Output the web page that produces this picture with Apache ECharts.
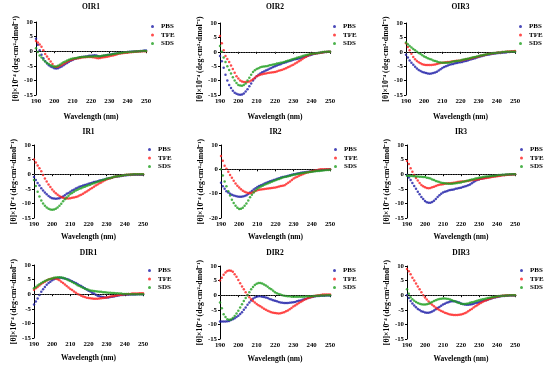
<!DOCTYPE html>
<html><head><meta charset="utf-8">
<script src="https://cdn.jsdelivr.net/npm/echarts@6/dist/echarts.min.js"></script>
<style>html,body{margin:0;padding:0;background:#fff}#c{width:550px;height:366px}</style>
</head><body><div id="c"></div>
<script>
const wavelengths = [190,191,192,193,194,195,196,197,198,199,200,201,202,203,204,205,206,207,208,209,210,211,212,213,214,215,216,217,218,219,220,221,222,223,224,225,226,227,228,229,230,231,232,233,234,235,236,237,238,239,240,241,242,243,244,245,246,247,248,249,250];
const seriesNames = ['PBS','TFE','SDS'];
const xTicks = [190,200,210,220,230,240,250];

const OIR1_PBS=[4.3,2.2,0.3,-1.2,-2.4,-3.4,-4.2,-4.8,-5.2,-5.5,-5.8,-5.9,-5.8,-5.5,-5.2,-4.8,-4.4,-4.0,-3.6,-3.3,-3.0,-2.7,-2.5,-2.3,-2.1,-2.0,-1.9,-1.8,-1.7,-1.6,-1.6,-1.5,-1.4,-1.5,-1.7,-1.8,-1.7,-1.6,-1.5,-1.3,-1.2,-1.1,-1.0,-0.9,-0.8,-0.7,-0.6,-0.5,-0.4,-0.4,-0.3,-0.2,-0.2,-0.1,-0.1,0.0,0.0,0.1,0.1,0.2,0.2];
const OIR1_TFE=[3.5,3.0,2.3,1.5,0.3,-1.0,-1.8,-2.7,-3.5,-4.4,-5.2,-5.4,-5.3,-5.0,-4.7,-4.3,-4.0,-3.6,-3.3,-3.0,-2.8,-2.6,-2.5,-2.4,-2.3,-2.2,-2.1,-2.1,-2.0,-2.0,-2.0,-2.1,-2.2,-2.3,-2.4,-2.3,-2.2,-2.1,-2.0,-1.9,-1.7,-1.6,-1.5,-1.3,-1.1,-0.9,-0.8,-0.7,-0.6,-0.5,-0.5,-0.4,-0.4,-0.3,-0.2,-0.2,-0.1,-0.1,0.0,0.0,0.0];
const OIR1_SDS=[1.0,-0.3,-1.5,-2.2,-2.9,-3.5,-4.0,-4.4,-4.8,-5.1,-5.3,-5.2,-5.0,-4.6,-4.2,-3.8,-3.5,-3.2,-2.9,-2.7,-2.5,-2.4,-2.3,-2.2,-2.1,-2.0,-2.0,-1.9,-1.9,-1.8,-1.8,-1.8,-1.7,-1.7,-1.7,-1.7,-1.6,-1.5,-1.4,-1.3,-1.2,-1.1,-1.0,-0.9,-0.8,-0.7,-0.6,-0.5,-0.4,-0.4,-0.3,-0.3,-0.2,-0.2,-0.1,-0.1,0.0,0.0,0.1,0.1,0.1];

const OIR2_PBS=[-1.5,-3.3,-5.5,-8.0,-10.0,-11.5,-12.6,-13.5,-14.2,-14.6,-14.8,-14.9,-14.8,-14.5,-13.8,-13.0,-12.0,-11.0,-10.0,-9.2,-8.5,-8.0,-7.5,-7.1,-6.8,-6.5,-6.2,-5.9,-5.6,-5.3,-5.0,-4.8,-4.5,-4.3,-4.0,-3.8,-3.6,-3.4,-3.2,-3.0,-2.8,-2.6,-2.5,-2.3,-2.2,-2.0,-1.8,-1.6,-1.4,-1.2,-1.0,-0.8,-0.7,-0.5,-0.4,-0.3,-0.2,-0.1,-0.1,0.0,0.0];
const OIR2_TFE=[5.5,3.0,0.5,-1.5,-2.5,-3.5,-4.8,-6.0,-7.3,-8.5,-9.3,-10.0,-10.3,-10.5,-10.5,-10.5,-10.3,-10.0,-9.5,-9.0,-8.5,-8.2,-8.0,-7.8,-7.6,-7.5,-7.4,-7.3,-7.2,-7.1,-7.0,-6.8,-6.6,-6.4,-6.2,-6.0,-5.7,-5.4,-5.1,-4.8,-4.5,-4.1,-3.7,-3.3,-2.9,-2.5,-2.1,-1.7,-1.3,-1.0,-0.8,-0.7,-0.6,-0.5,-0.4,-0.3,-0.2,-0.1,-0.1,0.0,0.0];
const OIR2_SDS=[2.0,0.0,-2.0,-3.5,-5.0,-6.3,-7.5,-8.8,-10.0,-10.8,-11.5,-11.7,-11.8,-11.5,-11.0,-10.0,-9.0,-8.0,-7.0,-6.4,-6.0,-5.7,-5.4,-5.2,-5.1,-5.0,-4.9,-4.7,-4.6,-4.4,-4.3,-4.1,-4.0,-3.8,-3.7,-3.5,-3.3,-3.1,-2.9,-2.7,-2.5,-2.3,-2.1,-1.9,-1.7,-1.5,-1.3,-1.1,-1.0,-0.8,-0.7,-0.6,-0.5,-0.4,-0.3,-0.2,-0.1,-0.1,0.0,0.0,0.0];

const OIR3_PBS=[-1.0,-2.0,-3.0,-3.8,-4.5,-5.2,-5.8,-6.3,-6.7,-7.0,-7.2,-7.4,-7.5,-7.6,-7.5,-7.4,-7.2,-6.9,-6.5,-6.1,-5.6,-5.3,-5.0,-4.8,-4.5,-4.3,-4.2,-4.0,-3.9,-3.7,-3.6,-3.5,-3.3,-3.2,-3.0,-2.8,-2.6,-2.4,-2.2,-2.0,-1.8,-1.6,-1.5,-1.3,-1.1,-1.0,-0.9,-0.8,-0.7,-0.6,-0.5,-0.4,-0.4,-0.3,-0.2,-0.2,-0.1,-0.1,0.0,0.0,0.0];
const OIR3_TFE=[3.0,1.7,0.5,-0.7,-1.8,-2.6,-3.2,-3.6,-4.0,-4.3,-4.5,-4.6,-4.6,-4.6,-4.6,-4.5,-4.4,-4.2,-4.1,-3.9,-3.8,-3.7,-3.6,-3.5,-3.5,-3.4,-3.3,-3.2,-3.1,-3.1,-3.0,-2.9,-2.8,-2.6,-2.5,-2.4,-2.2,-2.1,-1.9,-1.8,-1.6,-1.4,-1.3,-1.1,-1.0,-0.8,-0.7,-0.6,-0.5,-0.4,-0.3,-0.2,-0.2,-0.1,-0.1,0.0,0.1,0.1,0.2,0.2,0.3];
const OIR3_SDS=[3.2,2.6,2.0,1.5,1.0,0.5,0.0,-0.4,-0.8,-1.2,-1.6,-1.9,-2.2,-2.5,-2.7,-3.0,-3.2,-3.4,-3.6,-3.7,-3.8,-3.8,-3.8,-3.8,-3.7,-3.5,-3.4,-3.3,-3.2,-3.1,-3.0,-2.8,-2.7,-2.5,-2.4,-2.2,-2.1,-1.9,-1.8,-1.6,-1.5,-1.3,-1.2,-1.0,-0.9,-0.8,-0.7,-0.5,-0.4,-0.4,-0.3,-0.2,-0.2,-0.1,-0.1,0.0,0.0,0.0,0.0,0.0,0.0];

const IR1_PBS=[-1.0,-2.0,-3.0,-3.9,-4.8,-5.6,-6.3,-6.9,-7.5,-7.9,-8.2,-8.3,-8.4,-8.3,-8.2,-7.9,-7.6,-7.2,-6.7,-6.4,-6.0,-5.6,-5.3,-4.9,-4.6,-4.3,-4.1,-3.9,-3.7,-3.5,-3.3,-3.1,-2.9,-2.7,-2.6,-2.4,-2.2,-2.1,-1.9,-1.8,-1.6,-1.5,-1.3,-1.2,-1.0,-0.9,-0.8,-0.7,-0.6,-0.5,-0.4,-0.4,-0.3,-0.3,-0.2,-0.2,-0.2,-0.2,-0.2,-0.2,-0.2];
const IR1_TFE=[5.0,4.0,3.0,2.0,1.0,-0.3,-1.5,-2.5,-3.5,-4.4,-5.2,-5.9,-6.5,-7.0,-7.5,-7.8,-8.1,-8.2,-8.3,-8.3,-8.2,-8.1,-8.0,-7.8,-7.6,-7.3,-7.0,-6.7,-6.3,-5.9,-5.5,-5.1,-4.7,-4.3,-3.9,-3.5,-3.1,-2.8,-2.4,-2.1,-1.8,-1.6,-1.4,-1.2,-1.0,-0.8,-0.7,-0.6,-0.5,-0.4,-0.3,-0.2,-0.2,-0.1,-0.1,0.0,0.0,0.0,0.0,0.0,0.0];
const IR1_SDS=[-2.0,-4.0,-6.0,-7.6,-9.0,-10.0,-10.8,-11.4,-11.8,-12.1,-12.2,-12.1,-11.8,-11.4,-10.8,-10.1,-9.3,-8.6,-8.0,-7.4,-6.8,-6.4,-6.0,-5.6,-5.3,-5.0,-4.8,-4.5,-4.3,-4.0,-3.8,-3.6,-3.3,-3.1,-2.8,-2.6,-2.4,-2.2,-2.0,-1.8,-1.6,-1.4,-1.3,-1.1,-0.9,-0.8,-0.7,-0.6,-0.5,-0.4,-0.3,-0.2,-0.2,-0.1,-0.1,0.0,0.0,0.0,0.0,0.0,0.0];

const IR2_PBS=[-5.5,-7.0,-8.0,-9.0,-9.5,-10.0,-10.4,-10.8,-11.0,-11.2,-11.3,-11.3,-11.2,-11.0,-10.6,-10.1,-9.5,-8.9,-8.3,-7.8,-7.3,-6.9,-6.5,-6.2,-5.8,-5.5,-5.2,-4.9,-4.7,-4.4,-4.2,-3.9,-3.7,-3.4,-3.2,-3.0,-2.8,-2.6,-2.4,-2.2,-2.0,-1.9,-1.7,-1.6,-1.4,-1.3,-1.2,-1.1,-1.0,-0.9,-0.8,-0.7,-0.6,-0.5,-0.4,-0.3,-0.3,-0.2,-0.1,-0.1,0.0];
const IR2_TFE=[5.5,3.5,1.5,0.2,-1.0,-2.3,-3.5,-4.7,-5.8,-6.7,-7.5,-8.2,-8.8,-9.2,-9.5,-9.7,-9.8,-9.6,-9.3,-8.9,-8.6,-8.4,-8.3,-8.2,-8.1,-8.0,-7.9,-7.8,-7.7,-7.6,-7.5,-7.3,-7.1,-6.9,-6.7,-6.5,-6.0,-5.5,-5.0,-4.4,-3.8,-3.4,-3.0,-2.6,-2.3,-2.0,-1.7,-1.4,-1.2,-1.0,-0.8,-0.6,-0.4,-0.3,-0.1,0.0,0.0,0.0,0.0,0.0,0.0];
const IR2_SDS=[0.0,-2.5,-5.0,-7.0,-9.0,-10.8,-12.5,-13.8,-15.0,-15.8,-16.3,-16.2,-15.8,-15.0,-14.0,-12.8,-11.5,-10.4,-9.5,-8.7,-8.0,-7.5,-7.1,-6.7,-6.3,-6.0,-5.7,-5.4,-5.1,-4.8,-4.5,-4.2,-4.0,-3.7,-3.4,-3.2,-3.0,-2.8,-2.6,-2.4,-2.2,-2.1,-1.9,-1.8,-1.6,-1.5,-1.4,-1.3,-1.2,-1.1,-1.0,-0.9,-0.8,-0.7,-0.7,-0.6,-0.5,-0.4,-0.3,-0.3,-0.2];

const IR3_PBS=[-0.3,-1.1,-2.0,-3.0,-4.0,-5.0,-6.0,-6.9,-7.8,-8.5,-9.2,-9.6,-9.8,-9.8,-9.5,-9.1,-8.5,-7.8,-7.2,-6.7,-6.3,-6.0,-5.8,-5.6,-5.4,-5.3,-5.2,-5.0,-4.9,-4.7,-4.6,-4.4,-4.2,-4.0,-3.8,-3.5,-3.1,-2.7,-2.3,-2.0,-1.8,-1.6,-1.5,-1.3,-1.1,-1.0,-0.9,-0.8,-0.7,-0.6,-0.5,-0.4,-0.4,-0.3,-0.3,-0.2,-0.2,-0.1,-0.1,0.0,0.0];
const IR3_TFE=[4.5,3.5,2.0,0.8,-0.3,-1.3,-2.2,-3.0,-3.7,-4.1,-4.5,-4.7,-4.8,-4.7,-4.5,-4.3,-4.0,-3.8,-3.6,-3.5,-3.4,-3.3,-3.2,-3.1,-3.1,-3.0,-2.9,-2.8,-2.7,-2.6,-2.5,-2.5,-2.4,-2.3,-2.3,-2.2,-2.1,-2.0,-1.9,-1.8,-1.7,-1.6,-1.5,-1.4,-1.3,-1.2,-1.1,-1.0,-0.9,-0.8,-0.7,-0.6,-0.5,-0.4,-0.4,-0.3,-0.2,-0.2,-0.1,-0.1,0.0];
const IR3_SDS=[-0.5,-0.5,-0.6,-0.6,-0.7,-0.8,-0.8,-0.9,-0.9,-1.0,-1.0,-1.2,-1.3,-1.5,-1.8,-2.0,-2.3,-2.5,-2.7,-2.9,-3.0,-3.1,-3.2,-3.3,-3.3,-3.3,-3.2,-3.1,-3.0,-2.9,-2.8,-2.6,-2.5,-2.3,-2.2,-2.0,-1.8,-1.7,-1.5,-1.4,-1.2,-1.1,-1.0,-0.9,-0.8,-0.8,-0.7,-0.6,-0.5,-0.5,-0.4,-0.3,-0.3,-0.2,-0.2,-0.1,-0.1,0.0,0.0,0.0,0.0];

const DIR1_PBS=[-3.5,-2.5,-1.5,-0.3,0.8,1.7,2.5,3.2,3.8,4.3,4.8,5.1,5.4,5.5,5.6,5.6,5.5,5.4,5.2,5.0,4.7,4.4,4.1,3.8,3.5,3.1,2.8,2.4,2.0,1.6,1.2,0.9,0.5,0.2,-0.2,-0.5,-0.7,-0.9,-1.0,-1.1,-1.1,-1.1,-1.0,-0.9,-0.8,-0.6,-0.5,-0.4,-0.3,-0.3,-0.2,-0.2,-0.2,-0.1,-0.1,-0.1,-0.1,0.0,0.0,0.0,0.0];
const DIR1_TFE=[1.5,2.0,2.5,3.0,3.5,3.9,4.3,4.7,5.0,5.2,5.4,5.5,5.4,5.1,4.8,4.3,3.8,3.3,2.8,2.3,1.8,1.4,0.9,0.5,0.1,-0.2,-0.5,-0.8,-1.0,-1.2,-1.3,-1.4,-1.5,-1.6,-1.6,-1.6,-1.5,-1.4,-1.3,-1.2,-1.1,-1.0,-0.8,-0.7,-0.6,-0.5,-0.4,-0.3,-0.2,-0.1,0.0,0.0,0.1,0.1,0.2,0.2,0.2,0.2,0.3,0.3,0.3];
const DIR1_SDS=[2.0,2.5,3.0,3.4,3.8,4.2,4.5,4.8,5.0,5.2,5.4,5.6,5.7,5.8,5.8,5.7,5.6,5.4,5.1,4.8,4.5,4.2,3.8,3.5,3.1,2.8,2.5,2.2,1.9,1.7,1.5,1.3,1.2,1.1,1.0,0.9,0.8,0.8,0.7,0.7,0.6,0.5,0.5,0.4,0.4,0.3,0.3,0.2,0.2,0.1,0.1,0.1,0.1,0.0,0.0,0.0,0.0,0.0,0.0,0.0,0.0];

const DIR2_PBS=[-9.0,-9.0,-9.0,-9.0,-8.9,-8.8,-8.5,-8.2,-7.9,-7.5,-7.0,-6.4,-5.8,-5.0,-4.2,-3.3,-2.5,-1.8,-1.2,-0.8,-0.5,-0.4,-0.4,-0.5,-0.6,-0.8,-1.0,-1.3,-1.5,-1.7,-1.9,-2.1,-2.3,-2.5,-2.6,-2.7,-2.7,-2.7,-2.6,-2.5,-2.4,-2.3,-2.1,-1.9,-1.8,-1.6,-1.4,-1.2,-1.0,-0.8,-0.6,-0.5,-0.4,-0.3,-0.3,-0.2,-0.2,-0.2,-0.1,-0.1,-0.1];
const DIR2_TFE=[5.0,6.0,7.0,7.8,8.3,8.5,8.4,8.0,7.2,6.3,5.2,4.1,3.0,2.0,1.0,0.1,-0.7,-1.4,-2.0,-2.5,-3.0,-3.4,-3.8,-4.2,-4.6,-5.0,-5.3,-5.6,-5.8,-6.0,-6.1,-6.2,-6.3,-6.2,-6.0,-5.8,-5.5,-5.2,-4.8,-4.4,-3.9,-3.5,-3.1,-2.7,-2.3,-2.0,-1.6,-1.3,-1.0,-0.8,-0.6,-0.4,-0.2,-0.1,0.0,0.1,0.2,0.2,0.2,0.2,0.2];
const DIR2_SDS=[-2.5,-4.5,-6.5,-7.5,-8.2,-8.4,-8.3,-7.8,-7.1,-6.3,-5.3,-4.2,-3.1,-2.0,-1.0,0.0,1.0,2.0,2.8,3.5,3.9,4.2,4.2,4.0,3.7,3.3,2.9,2.4,2.0,1.5,1.0,0.7,0.4,0.2,0.0,-0.2,-0.3,-0.4,-0.4,-0.5,-0.5,-0.5,-0.5,-0.5,-0.5,-0.5,-0.5,-0.4,-0.4,-0.4,-0.4,-0.3,-0.3,-0.2,-0.2,-0.1,-0.1,-0.1,0.0,0.0,0.0];

const DIR3_PBS=[0.0,-1.0,-2.0,-2.8,-3.5,-4.1,-4.7,-5.1,-5.5,-5.7,-5.9,-6.0,-6.0,-5.8,-5.6,-5.2,-4.8,-4.4,-4.0,-3.6,-3.2,-2.9,-2.6,-2.4,-2.2,-2.1,-2.1,-2.2,-2.3,-2.5,-2.8,-3.0,-3.2,-3.3,-3.3,-3.2,-3.1,-2.9,-2.7,-2.6,-2.4,-2.2,-2.0,-1.8,-1.7,-1.5,-1.3,-1.1,-0.9,-0.8,-0.6,-0.5,-0.4,-0.3,-0.3,-0.2,-0.2,-0.1,-0.1,-0.1,-0.1];
const DIR3_TFE=[9.0,8.2,7.2,6.0,5.0,4.0,3.0,2.0,1.0,0.0,-0.8,-1.5,-2.2,-2.8,-3.3,-3.8,-4.3,-4.7,-5.1,-5.4,-5.7,-6.0,-6.2,-6.4,-6.6,-6.7,-6.8,-6.8,-6.8,-6.7,-6.6,-6.4,-6.2,-5.9,-5.5,-5.1,-4.7,-4.2,-3.8,-3.4,-3.0,-2.7,-2.3,-2.0,-1.7,-1.5,-1.2,-1.0,-0.8,-0.6,-0.5,-0.4,-0.3,-0.2,-0.1,-0.1,0.0,0.0,0.0,0.0,0.0];
const DIR3_SDS=[2.0,0.5,-0.7,-1.4,-1.9,-2.3,-2.7,-2.9,-3.1,-3.2,-3.2,-3.1,-2.9,-2.6,-2.3,-2.0,-1.7,-1.5,-1.3,-1.2,-1.1,-1.1,-1.2,-1.3,-1.5,-1.7,-2.0,-2.2,-2.5,-2.7,-2.9,-3.0,-3.0,-2.9,-2.8,-2.6,-2.4,-2.3,-2.1,-1.9,-1.7,-1.6,-1.4,-1.3,-1.1,-1.0,-0.9,-0.7,-0.6,-0.5,-0.4,-0.3,-0.3,-0.2,-0.2,-0.1,-0.1,0.0,0.0,0.0,0.0];

const yTicksA = [-15,-10,-5,0,5,10];
const yTicksB = [-20,-10,0,10];

const panels = [
  {title:'OIR1', d:[OIR1_PBS,OIR1_TFE,OIR1_SDS], yt:yTicksA},
  {title:'OIR2', d:[OIR2_PBS,OIR2_TFE,OIR2_SDS], yt:yTicksA},
  {title:'OIR3', d:[OIR3_PBS,OIR3_TFE,OIR3_SDS], yt:yTicksA},
  {title:'IR1', d:[IR1_PBS,IR1_TFE,IR1_SDS], yt:yTicksA},
  {title:'IR2', d:[IR2_PBS,IR2_TFE,IR2_SDS], yt:yTicksB},
  {title:'IR3', d:[IR3_PBS,IR3_TFE,IR3_SDS], yt:yTicksA},
  {title:'DIR1', d:[DIR1_PBS,DIR1_TFE,DIR1_SDS], yt:yTicksA},
  {title:'DIR2', d:[DIR2_PBS,DIR2_TFE,DIR2_SDS], yt:yTicksA},
  {title:'DIR3', d:[DIR3_PBS,DIR3_TFE,DIR3_SDS], yt:yTicksA}
];

// layout (pixels): grid left, top, width, height; title top; legend left/top; x-name gap
const layout = [
  {l:36,  t:22,  w:110, h:73, tt:3,   ll:151, lt:23,  xg:18},
  {l:220, t:23,  w:110, h:72, tt:3,   ll:333, lt:23,  xg:18},
  {l:406, t:23,  w:109, h:72, tt:3,   ll:519, lt:23,  xg:18},
  {l:34,  t:145, w:109, h:73, tt:128.5, ll:148, lt:146, xg:15},
  {l:221, t:145, w:109, h:73, tt:128.5, ll:334, lt:146, xg:15},
  {l:407, t:145, w:108, h:73, tt:128.5, ll:520, lt:146, xg:15},
  {l:34,  t:265, w:109, h:73, tt:249, ll:148, lt:267, xg:16},
  {l:220, t:266, w:110, h:73, tt:249, ll:333, lt:267, xg:16},
  {l:407, t:266, w:108, h:73, tt:249, ll:520, lt:267, xg:16}
];

const colors = ['#1c1ca6','#ff1f1f','#1f9f1f'];
const FONT = '"Liberation Serif","Times New Roman",serif';
const yName = '[θ]×10⁻⁴ (deg·cm²·dmol⁻¹)';

const option = {animation:false, title:[], grid:[], xAxis:[], yAxis:[], legend:[], series:[]};
panels.forEach((p,i)=>{
  const L = layout[i];
  option.title.push({text:p.title, left:L.l+L.w/2, top:L.tt, textAlign:'center', padding:0,
    textStyle:{fontFamily:FONT, fontWeight:'bold', fontSize:7.5, color:'#000'}});
  option.grid.push({left:L.l, top:L.t, width:L.w, height:L.h});
  option.xAxis.push({type:'value', gridIndex:i, min:xTicks[0], max:xTicks[xTicks.length-1], interval:10,
    name:'Wavelength (nm)', nameLocation:'middle', nameGap:L.xg,
    nameTextStyle:{fontFamily:FONT, fontWeight:'bold', fontSize:7.5, color:'#000'},
    axisLine:{lineStyle:{color:'#000', width:1}}, axisTick:{length:2, lineStyle:{color:'#000'}},
    axisLabel:{fontFamily:FONT, fontWeight:'bold', fontSize:6.8, color:'#000', margin:3},
    splitLine:{show:false}});
  const yt = p.yt;
  option.yAxis.push({type:'value', gridIndex:i, min:yt[0], max:yt[yt.length-1], interval:yt[1]-yt[0],
    name:yName, nameLocation:'middle', nameGap:5, nameRotate:90,
    nameTextStyle:{fontFamily:FONT, fontWeight:'bold', fontSize:7.8, color:'#000'},
    axisLine:{show:true, lineStyle:{color:'#000', width:1}}, axisTick:{show:true, length:2, lineStyle:{color:'#000'}},
    axisLabel:{fontFamily:FONT, fontWeight:'bold', fontSize:6.8, color:'#000', margin:3},
    splitLine:{show:false}});
  const names = seriesNames.map(n=>p.title+' '+n);
  option.legend.push({orient:'vertical', left:L.ll, top:L.lt, itemWidth:3, itemHeight:3, itemGap:1.5,
    icon:'circle', data:names, formatter:(n)=>n.split(' ')[1],
    textStyle:{fontFamily:FONT, fontWeight:'bold', fontSize:7, color:'#000', padding:[0,0,0,2]}, padding:0});
  p.d.forEach((arr,k)=>{
    const s = {name:names[k], type:'scatter', xAxisIndex:i, yAxisIndex:i, symbol:'circle', symbolSize:2.5,
      itemStyle:{color:colors[k]}, data:wavelengths.map((w,j)=>[w,arr[j]]), z:2+k};
    if(k===0){
      s.markLine = {silent:true, symbol:'none', label:{show:false}, animation:false,
        lineStyle:{color:'#555', type:[1,1.5], width:1}, data:[{yAxis:0}]};
    }
    option.series.push(s);
  });
});
const chart = echarts.init(document.getElementById('c'), null, {renderer:'canvas'});
chart.setOption(option);
</script></body></html>
